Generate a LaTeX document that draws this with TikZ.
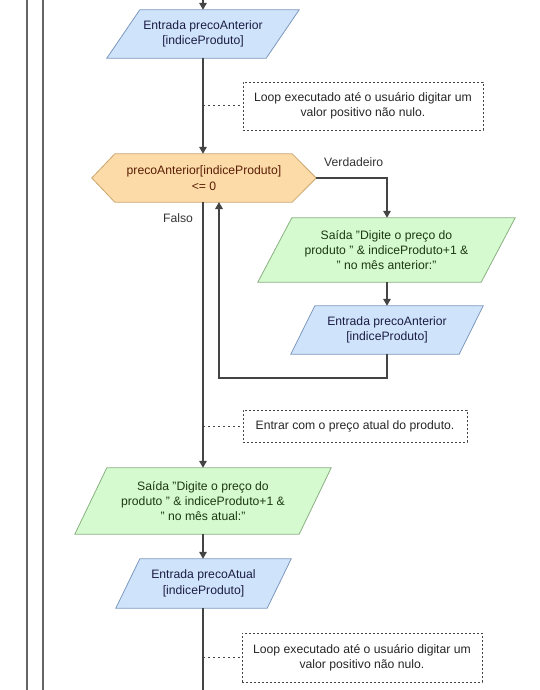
\documentclass[tikz,border=0pt]{standalone}
\usepackage{fontspec}
\setmainfont{Liberation Sans}
\usetikzlibrary{arrows.meta,calc}
\pgfdeclarelayer{bg}\pgfsetlayers{bg,main}
\definecolor{linec}{HTML}{444444}
\definecolor{bluefill}{HTML}{CFE4FB}
\definecolor{blueline}{HTML}{7C98BE}
\definecolor{greenfill}{HTML}{D5FAD0}
\definecolor{greenline}{HTML}{8AB080}
\definecolor{hexfill}{HTML}{FDDBA9}
\definecolor{hexline}{HTML}{C9A66E}
\definecolor{hextext}{HTML}{5A1E05}
\definecolor{greentext}{HTML}{1E3A12}
\definecolor{bluetext}{HTML}{1C1C44}
\tikzset{
  txt/.style={font=\fontsize{12.2}{15.4}\selectfont, align=center, inner sep=0pt},
  shapebox/.style={txt, minimum width=#1},
  flow/.style={draw=linec, line width=1.6pt, -{Triangle[length=7pt,width=7.5pt]}},
  plain/.style={draw=linec, line width=1.6pt},
  dotline/.style={draw=linec, line width=1pt, dash pattern=on 1.5pt off 3.5pt},
  commentbox/.style={txt, draw=linec, line width=0.8pt, dash pattern=on 2pt off 2pt, text=black!85},
  bluepoly/.style={fill=bluefill, draw=blueline, line width=0.8pt},
  greenpoly/.style={fill=greenfill, draw=greenline, line width=0.8pt},
  hexpoly/.style={fill=hexfill, draw=hexline, line width=0.8pt},
  sideline/.style={draw=black!60, line width=1.6pt},
}
\begin{document}
\begin{tikzpicture}[x=1pt,y=-1pt]
\useasboundingbox (0,0) rectangle (539,690);
% side lines
\draw[sideline] (27,0) -- (27,690);
\draw[sideline] (43,0) -- (43,690);

% node 1
\node[shapebox=192, minimum height=48, text=bluetext] (n1) at (203,34) {Entrada precoAnterior\\{}[indiceProduto]};
% hexagon
\node[shapebox=224, minimum height=48, text=hextext] (hex) at (204,178) {precoAnterior[indiceProduto]\\<= 0};
% green 1
\node[shapebox=257, minimum height=64, text=greentext] (g1) at (386.5,250) {Saída "Digite o preço do\\produto " \& indiceProduto+1 \&\\" no mês anterior:"};
% entrada 2
\node[shapebox=192, minimum height=48, text=bluetext] (e2) at (387,330) {Entrada precoAnterior\\{}[indiceProduto]};
% green 2
\node[shapebox=256, minimum height=66, text=greentext] (g2) at (203,501) {Saída "Digite o preço do\\produto " \& indiceProduto+1 \&\\" no mês atual:"};
% entrada 3
\node[shapebox=175, minimum height=49, text=bluetext] (e3) at (203.5,583.5) {Entrada precoAtual\\{}[indiceProduto]};

% shapes behind text
\begin{pgfonlayer}{bg}
\draw[bluepoly] ([xshift=33]n1.north west) -- (n1.north east) -- ([xshift=-33]n1.south east) -- (n1.south west) -- cycle;
\draw[hexpoly] (hex.west) -- ([xshift=23]hex.north west) -- ([xshift=-24]hex.north east) -- (hex.east) -- ([xshift=-24]hex.south east) -- ([xshift=23]hex.south west) -- cycle;
\draw[greenpoly] ([xshift=34]g1.north west) -- (g1.north east) -- ([xshift=-34]g1.south east) -- (g1.south west) -- cycle;
\draw[bluepoly] ([xshift=24]e2.north west) -- (e2.north east) -- ([xshift=-24]e2.south east) -- (e2.south west) -- cycle;
\draw[greenpoly] ([xshift=32]g2.north west) -- (g2.north east) -- ([xshift=-32]g2.south east) -- (g2.south west) -- cycle;
\draw[bluepoly] ([xshift=24]e3.north west) -- (e3.north east) -- ([xshift=-24]e3.south east) -- (e3.south west) -- cycle;
\end{pgfonlayer}

% comments
\node[commentbox, minimum width=240, minimum height=48] (c1) at (363,106) {Loop executado até o usuário digitar um\\valor positivo não nulo.};
\node[commentbox, minimum width=224, minimum height=32] (c2) at (355,426) {Entrar com o preço atual do produto.};
\node[commentbox, minimum width=240, minimum height=49] (c3) at (362,657.5) {Loop executado até o usuário digitar um\\valor positivo não nulo.};

% coordinates
\coordinate (top) at (203,0);
\coordinate (bottom) at (203,690);
\coordinate (t1) at (203,106);
\coordinate (t2) at (203,426);
\coordinate (t3) at (203,657.5);
\coordinate (ret) at (219,202);

% connectors
\draw[flow] (top) -- (n1.north -| top);
\draw[flow] (n1.south -| top) -- (hex.north -| top);
\draw[flow] (hex.south -| top) -- (g2.north -| top);
\draw[flow] (g2.south -| top) -- (e3.north -| top);
\draw[plain] (e3.south -| top) -- (bottom);
\draw[flow] (hex.east) -| (g1.north -| e2);
\draw[flow] (g1.south -| e2) -- (e2.north);
\draw[flow] (e2.south) -- ++(0,24) -| (ret);

% dotted links
\draw[dotline] (t1) -- (c1.west);
\draw[dotline] (t2) -- (c2.west);
\draw[dotline] (t3) -- (c3.west);

% labels
\node[txt, text=black!80, anchor=west] (lv) at (324,162) {Verdadeiro};
\node[txt, text=black!80] (lf) at (178,218) {Falso};
\end{tikzpicture}
\end{document}
